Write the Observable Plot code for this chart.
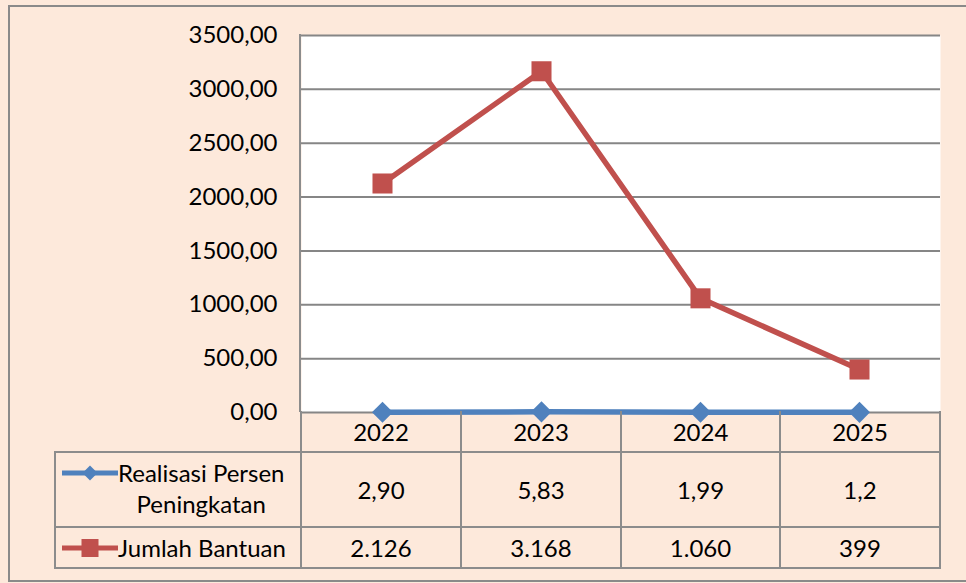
<!DOCTYPE html>
<html><head><meta charset="utf-8">
<script src="https://cdn.jsdelivr.net/npm/d3@7"></script>
<script src="https://cdn.jsdelivr.net/npm/@observablehq/plot@0.6"></script>
<style>
html,body{margin:0;padding:0;background:#fff;}
#chart{position:relative;width:966px;height:583px;background:#fde9db;font-family:Lato,sans-serif;overflow:hidden;}
#border{position:absolute;left:8px;top:5px;width:990px;height:577px;border:2px solid #8a8a8a;box-sizing:border-box;pointer-events:none}
#chart > svg{position:absolute;left:0;top:0;}
#axisline{position:absolute;left:299px;top:34px;width:2px;height:378px;background:#8c8c8c}
table{position:absolute;left:54px;top:411px;border-collapse:collapse;font-size:24px;color:#000;table-layout:fixed;width:885px}
td{border:2px solid #8c8c8c;text-align:center;padding:0;white-space:nowrap}
tr.head td{border-top:none}
tr.head td.blank{border-left:none}
td.lab{text-align:left;padding-left:6px}
.labwrap{display:flex;align-items:flex-start}
.labtext{text-align:center;line-height:31px}
.r1 .labtext{margin-top:-3px}
</style>
</head><body>
<div id="chart"><div id="border"></div></div>
<script>
const years = ["2022", "2023", "2024", "2025"];
const persen = [2.90, 5.83, 1.99, 1.2];
const persenLabels = ["2,90", "5,83", "1,99", "1,2"];
const jumlah = [2126, 3168, 1060, 399];
const yTicks = [0, 500, 1000, 1500, 2000, 2500, 3000, 3500];
const seriesNames = ["Realisasi Persen Peningkatan", "Jumlah Bantuan"];

const red = "#c0504d", blue = "#4f81bd";
const loc = d3.formatLocale({decimal: ",", thousands: ".", grouping: [3], currency: ["", ""]});
const fmtTick = loc.format(".2f");
const fmtInt = loc.format(",d");

const rows = years.map((y, i) => ({year: y, persen: persen[i], jumlah: jumlah[i]}));

const plot = Plot.plot({
  width: 966,
  height: 583,
  marginLeft: 301,
  marginRight: 26,
  marginTop: 35,
  marginBottom: 171,
  style: {background: "transparent", fontFamily: "Lato, sans-serif", fontSize: "24px", color: "#000"},
  x: {type: "point", domain: years, padding: 0.5, axis: null},
  y: {domain: [0, 3500], label: null},
  marks: [
    Plot.frame({fill: "white", stroke: "none"}),
    Plot.gridY(yTicks, {stroke: "#868686", strokeOpacity: 1, strokeWidth: 2}),
    Plot.axisY(yTicks, {tickSize: 0, tickPadding: 24, tickFormat: fmtTick, fontSize: 24, label: null}),
    Plot.line(rows, {x: "year", y: "jumlah", stroke: red, strokeWidth: 5.5}),
    Plot.dot(rows, {x: "year", y: "jumlah", symbol: "square", r: 11.3, fill: red, stroke: "none"}),
    Plot.line(rows, {x: "year", y: "persen", stroke: blue, strokeWidth: 5.5}),
    Plot.dot(rows, {x: "year", y: "persen", symbol: "diamond2", r: 9.5, fill: blue, stroke: "none"})
  ]
});
const chart = document.getElementById("chart");
chart.insertBefore(plot, chart.firstChild);

const axisLine = document.createElement("div");
axisLine.id = "axisline";
chart.appendChild(axisLine);

const diamondIcon = `<svg width="56" height="20" style="display:block;flex:none;margin-top:3px"><line x1="0" x2="56" y1="10" y2="10" stroke="${blue}" stroke-width="5"/><path d="M28,2.5L35.5,10L28,17.5L20.5,10Z" fill="${blue}"/></svg>`;
const squareIcon = `<svg width="56" height="20" style="display:block;flex:none;margin-top:6px"><line x1="0" x2="56" y1="10" y2="10" stroke="${red}" stroke-width="5"/><rect x="19.5" y="1" width="17" height="18" fill="${red}"/></svg>`;

const table = document.createElement("table");
table.innerHTML = `
<colgroup><col style="width:246px"><col style="width:160px"><col style="width:160px"><col style="width:159px"><col style="width:160px"></colgroup>
<tr class="head" style="height:41px"><td class="blank"></td>${years.map(y => `<td>${y}</td>`).join("")}</tr>
<tr class="r1" style="height:75px"><td class="lab"><div class="labwrap">${diamondIcon}<div class="labtext">Realisasi Persen<br>Peningkatan</div></div></td>${persenLabels.map(v => `<td>${v}</td>`).join("")}</tr>
<tr style="height:41px"><td class="lab"><div class="labwrap">${squareIcon}<div class="labtext">${seriesNames[1]}</div></div></td>${jumlah.map(v => `<td>${fmtInt(v)}</td>`).join("")}</tr>`;
chart.appendChild(table);
</script>
</body></html>
